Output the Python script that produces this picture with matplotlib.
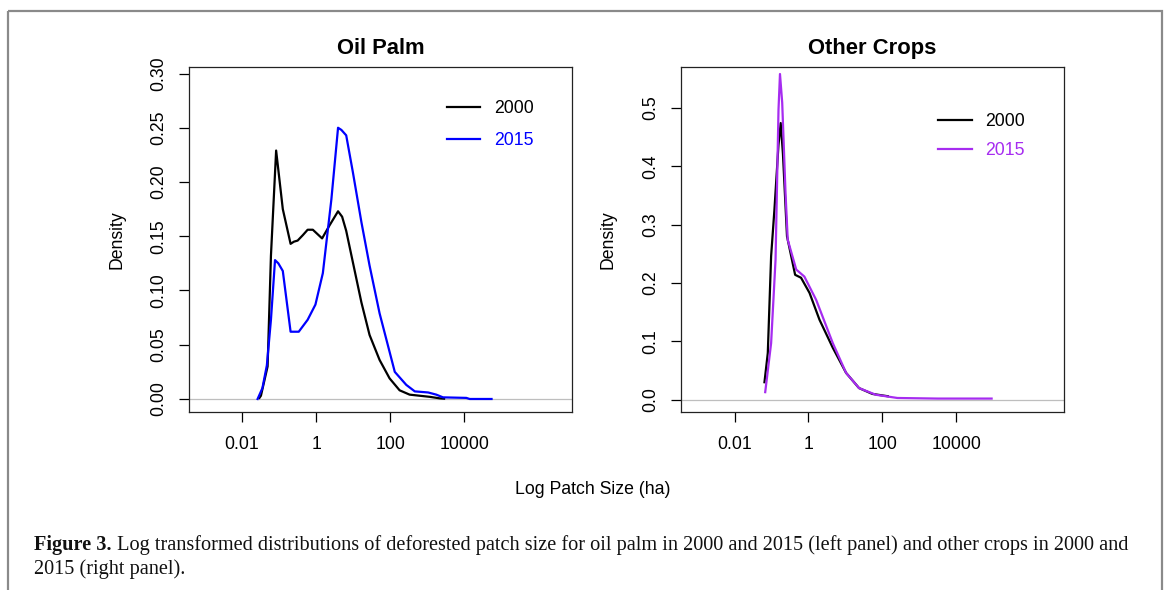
import matplotlib
matplotlib.use('Agg')
import matplotlib.pyplot as plt
from matplotlib.transforms import Affine2D
from matplotlib.patches import Rectangle

# ---------------- data (x = log10 patch size in ha) ----------------
op_x_2000 = [-1.53, -1.49, -1.31, -1.22, -1.08, -0.90, -0.69, -0.60, -0.50, -0.36, -0.23, -0.09,
             0.16, 0.36, 0.59, 0.70, 0.81, 0.99, 1.22, 1.44, 1.71, 1.98, 2.25, 2.52, 3.06, 3.33, 3.45]
op_d_2000 = [0.001, 0.003, 0.030, 0.132, 0.229, 0.175, 0.143, 0.145, 0.146, 0.151, 0.156, 0.156,
             0.148, 0.160, 0.173, 0.168, 0.155, 0.126, 0.089, 0.059, 0.036, 0.019, 0.008, 0.004, 0.002, 0.0006, 0.0003]

op_x_2015 = [-1.58, -1.45, -1.33, -1.22, -1.11, -1.02, -0.90, -0.69, -0.47, -0.23, -0.02, 0.18, 0.41,
             0.59, 0.68, 0.81, 0.99, 1.22, 1.44, 1.71, 2.12, 2.43, 2.66, 3.02, 3.24, 3.42, 4.05, 4.14, 4.73]
op_d_2015 = [0.0, 0.010, 0.031, 0.073, 0.128, 0.125, 0.118, 0.062, 0.062, 0.073, 0.087, 0.116, 0.184,
             0.250, 0.248, 0.243, 0.209, 0.163, 0.123, 0.079, 0.025, 0.013, 0.007, 0.006, 0.004, 0.0015, 0.001, 0.0, 0.0]

oc_x_2000 = [-1.19, -1.10, -1.01, -0.92, -0.81, -0.75, -0.69, -0.58, -0.36, -0.20, 0.03, 0.30,
             0.66, 1.02, 1.37, 1.73, 2.15]
oc_d_2000 = [0.03, 0.08, 0.246, 0.326, 0.437, 0.474, 0.421, 0.28, 0.214, 0.209, 0.183, 0.137,
             0.089, 0.046, 0.020, 0.010, 0.006]

oc_x_2015 = [-1.17, -1.01, -0.89, -0.81, -0.77, -0.71, -0.62, -0.56, -0.33, -0.11, 0.21, 0.66,
             1.02, 1.37, 1.82, 2.41, 3.50, 4.96]
oc_d_2015 = [0.013, 0.097, 0.24, 0.497, 0.558, 0.509, 0.354, 0.274, 0.223, 0.211, 0.171, 0.097,
             0.046, 0.020, 0.0086, 0.003, 0.002, 0.002]

x_ticks = [-2, 0, 2, 4]
x_tick_labels = ["0.01", "1", "100", "10000"]
op_y_ticks = [0.00, 0.05, 0.10, 0.15, 0.20, 0.25, 0.30]
op_y_labels = ["0.00", "0.05", "0.10", "0.15", "0.20", "0.25", "0.30"]
oc_y_ticks = [0.0, 0.1, 0.2, 0.3, 0.4, 0.5]
oc_y_labels = ["0.0", "0.1", "0.2", "0.3", "0.4", "0.5"]

titles = ["Oil Palm", "Other Crops"]
years = ["2000", "2015"]
xlabel = "Log Patch Size (ha)"
ylabel = "Density"
cap_bold = "Figure 3."
cap_rest = " Log transformed distributions of deforested patch size for oil palm in 2000 and 2015 (left panel) and other crops in 2000 and"
cap_line2 = "2015 (right panel)."

# ---------------- figure ----------------
W, H = 1170, 590
fig = plt.figure(figsize=(W / 100, H / 100), dpi=100)
PX = Affine2D().scale(1 / W, -1 / H).translate(0, 1) + fig.transFigure
SANS = ["Liberation Sans", "DejaVu Sans"]
SERIF = ["Liberation Serif", "DejaVu Serif"]
FS = 12.7

def rect(l, t, r, b):
    return [l / W, 1 - b / H, (r - l) / W, (b - t) / H]

# outer frame
fig.patches.append(Rectangle((8, 11), 1154, 600, transform=PX, fill=False,
                             edgecolor='#8a8a8a', lw=1.6, clip_on=False))

ax1 = fig.add_axes(rect(189, 67, 572, 412))
ax2 = fig.add_axes(rect(681, 67, 1064, 412))

LW = 1.6
l1a, = ax1.plot(op_x_2000, op_d_2000, color='black', lw=LW)
l1b, = ax1.plot(op_x_2015, op_d_2015, color='#0000FF', lw=LW)
l2a, = ax2.plot(oc_x_2000, oc_d_2000, color='black', lw=LW)
l2b, = ax2.plot(oc_x_2015, oc_d_2015, color='#A62CF0', lw=LW)

ax1.set_xlim(-3.43, 6.90)
ax2.set_xlim(-3.45, 6.92)
ax1.set_ylim(-0.012, 0.306)
ax2.set_ylim(-0.021, 0.570)

for ax, yt, yl in [(ax1, op_y_ticks, op_y_labels), (ax2, oc_y_ticks, oc_y_labels)]:
    ax.axhline(0, color='#BEBEBE', lw=0.9, zorder=0.5)
    ax.set_xticks(x_ticks)
    ax.set_xticklabels(x_tick_labels, fontfamily=SANS, fontsize=FS)
    ax.set_yticks(yt)
    ax.set_yticklabels(yl, fontfamily=SANS, fontsize=FS, rotation=90, va='center')
    ax.tick_params(axis='both', direction='out', length=7.5, width=0.9, colors='black')
    ax.tick_params(axis='x', pad=9.5)
    ax.tick_params(axis='y', pad=8)
    for s in ax.spines.values():
        s.set_linewidth(0.9)
        s.set_color('#222222')

# titles
fig.text(380.5, 54, titles[0], transform=PX, ha='center', va='baseline',
         fontfamily=SANS, fontsize=15.8, fontweight='bold')
fig.text(872.5, 54, titles[1], transform=PX, ha='center', va='baseline',
         fontfamily=SANS, fontsize=15.8, fontweight='bold')

# axis labels
fig.text(117, 239.5, ylabel, transform=PX, rotation=90, ha='center', va='center',
         fontfamily=SANS, fontsize=FS)
fig.text(608, 239.5, ylabel, transform=PX, rotation=90, ha='center', va='center',
         fontfamily=SANS, fontsize=FS)
fig.text(593, 494, xlabel, transform=PX, ha='center', va='baseline',
         fontfamily=SANS, fontsize=FS)

# legends
lg1 = ax1.legend([l1a, l1b], years, loc='upper left', bbox_to_anchor=(446.7, 100),
                 bbox_transform=PX, frameon=False, borderaxespad=0, borderpad=0,
                 handlelength=1.9, handletextpad=0.8, labelspacing=0.86,
                 labelcolor='linecolor', prop={'family': SANS, 'size': FS})
lg2 = ax2.legend([l2a, l2b], years, loc='upper left', bbox_to_anchor=(938, 113.5),
                 bbox_transform=PX, frameon=False, borderaxespad=0, borderpad=0,
                 handlelength=1.9, handletextpad=0.8, labelspacing=0.64,
                 labelcolor='linecolor', prop={'family': SANS, 'size': FS})

# caption (fit to measured width)
renderer = fig.canvas.get_renderer()
x0, x1 = 34, 1127
fs = 14.0
for _ in range(3):
    tb = fig.text(x0, 550, cap_bold, transform=PX, ha='left', va='baseline',
                  fontfamily=SERIF, fontsize=fs, fontweight='bold', color='#111111')
    wb = tb.get_window_extent(renderer).width
    tr = fig.text(x0 + wb, 550, cap_rest, transform=PX, ha='left', va='baseline',
                  fontfamily=SERIF, fontsize=fs, color='#111111')
    wr = tr.get_window_extent(renderer).width
    total = wb + wr
    tb.remove(); tr.remove()
    fs = fs * (x1 - x0) / total
tb = fig.text(x0, 550, cap_bold, transform=PX, ha='left', va='baseline',
              fontfamily=SERIF, fontsize=fs, fontweight='bold', color='#111111')
wb = tb.get_window_extent(renderer).width
fig.text(x0 + wb, 550, cap_rest, transform=PX, ha='left', va='baseline',
         fontfamily=SERIF, fontsize=fs, color='#111111')
fig.text(x0, 574, cap_line2, transform=PX, ha='left', va='baseline',
         fontfamily=SERIF, fontsize=fs, color='#111111')

fig.savefig('out.png', dpi=100)
